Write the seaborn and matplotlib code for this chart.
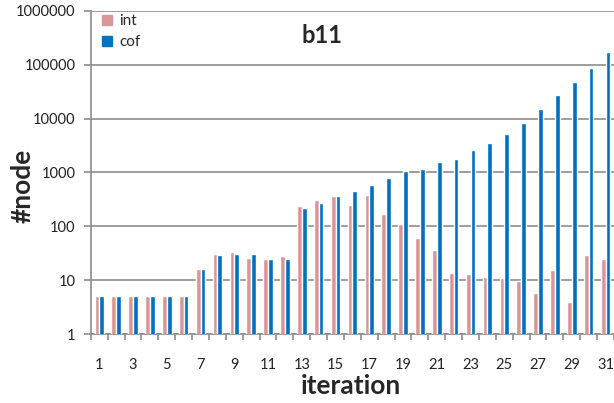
import numpy as np
import pandas as pd
import seaborn as sns
import matplotlib
matplotlib.use("Agg")
import matplotlib.pyplot as plt
from matplotlib.ticker import FuncFormatter, FixedLocator
from matplotlib.lines import Line2D

# values (log scale)
iterations = list(range(1, 32))
int_nodes = [5, 5, 5, 5, 5, 5, 16, 31, 33, 26, 25, 28, 237, 315, 359, 254, 380,
             166, 109, 60, 36, 13.6, 13, 11.5, 10.8, 9.8, 5.9, 15.5, 3.9, 29.6, 25]
cof_nodes = [5, 5, 5, 5, 5, 5, 16, 30, 31, 31, 25, 25, 220, 266, 359, 451, 584,
             777, 1080, 1160, 1550, 1760, 2670, 3600, 5150, 8300, 14800, 26900,
             48500, 88600, 169000]

df = pd.DataFrame({
    "iteration": iterations * 2,
    "nodes": int_nodes + cof_nodes,
    "kind": ["int"] * len(iterations) + ["cof"] * len(iterations),
})

sns.set_style("white")
plt.rcParams['font.family'] = ['Lato', 'DejaVu Sans']

fig = plt.figure(figsize=(6.14, 4.03), dpi=100)
ax = fig.add_axes([0.148, 0.171, 0.852, 0.802])

colors = {"int": "#D99694", "cof": "#0070C0"}
sns.barplot(data=df, x="iteration", y="nodes", hue="kind", palette=colors,
            width=0.56, gap=0, ax=ax, legend=False, saturation=1, zorder=3)
ax.set_yscale("log")
ax.set_ylim(1, 1e6)
ax.set_xlim(-0.5, 30.5)

# grid and spines
ax.yaxis.grid(True, which="major", color="#8c8c8c", linestyle="-",
              linewidth=1.2, zorder=0)
ax.xaxis.grid(False)
ax.set_axisbelow(True)
for s in ["top", "right"]:
    ax.spines[s].set_visible(False)
for s in ["left", "bottom"]:
    ax.spines[s].set_color("#8c8c8c")
    ax.spines[s].set_linewidth(1.2)

ax.yaxis.set_major_formatter(FuncFormatter(lambda v, p: f"{int(round(v))}"))
ax.yaxis.set_minor_locator(FixedLocator([]))
ax.tick_params(axis="y", which="major", left=True, length=5, width=1.2,
               color="#8c8c8c", labelsize=10.5, pad=6, labelcolor="#222222")

# excel style x ticks: marks between categories, labels every other
ax.set_xticks(range(0, 31, 2))
ax.set_xticklabels([str(i) for i in iterations[::2]])
ax.set_xticks(np.arange(-0.5, 31, 1), minor=True)
ax.tick_params(axis="x", which="major", bottom=True, length=0, labelsize=10.5,
               pad=17, labelcolor="#222222")
ax.tick_params(axis="x", which="minor", bottom=True, length=4.5, width=1.2,
               color="#8c8c8c")

ax.set_xlabel("iteration", fontsize=19, fontweight="bold", va="top")
ax.xaxis.set_label_coords(0.497, -0.125)
ax.set_ylabel("#node", fontsize=19, fontweight="bold")
ax.yaxis.set_label_coords(-0.108, 0.46)
ax.text(0.442, 0.923, "b11", transform=ax.transAxes, fontsize=17,
        fontweight="bold", ha="center", va="center")

handles = [Line2D([], [], marker="s", linestyle="", markersize=7,
                  markerfacecolor=colors[k], markeredgecolor=colors[k])
           for k in ["int", "cof"]]
ax.legend(handles, ["int", "cof"], loc="upper left",
          bbox_to_anchor=(0.018, 0.99), frameon=False, fontsize=11,
          labelspacing=0.45, handlelength=0.9, handletextpad=0.35,
          borderpad=0, borderaxespad=0)

fig.savefig("out.png", dpi=100)
